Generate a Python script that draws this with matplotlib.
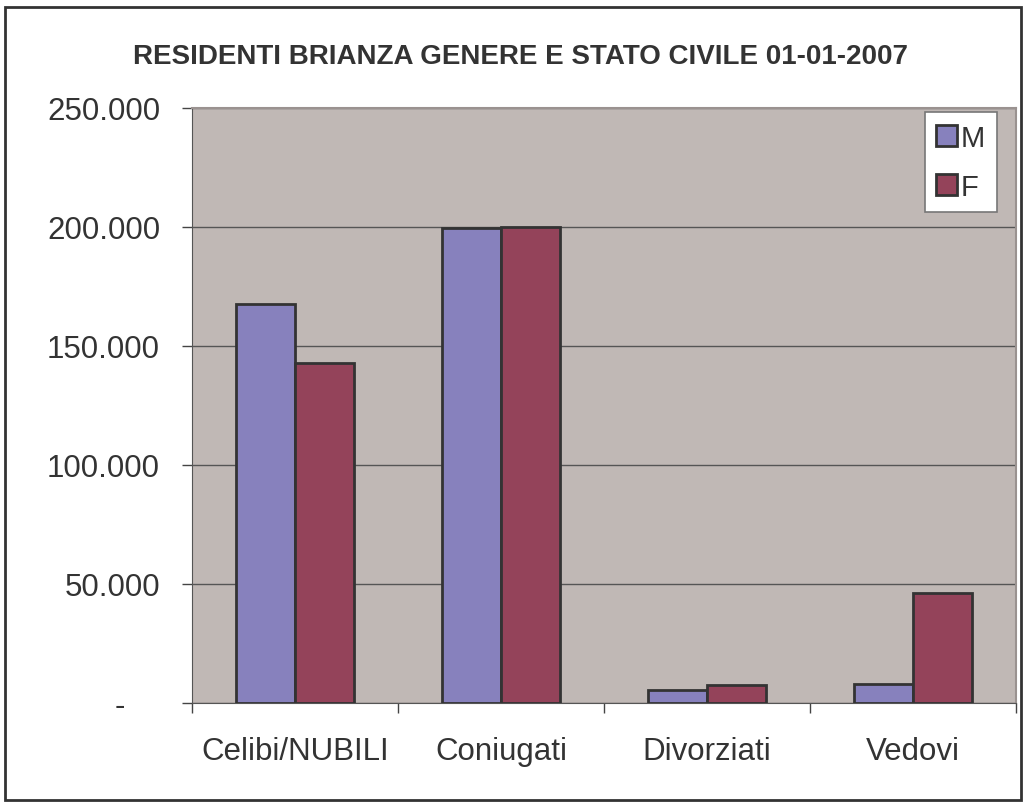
import matplotlib
matplotlib.use("Agg")
import matplotlib.pyplot as plt
from matplotlib.patches import Rectangle
from matplotlib.ticker import FuncFormatter, FixedLocator
import numpy as np

plt.rcParams.update({
    "font.family": ["Liberation Sans", "DejaVu Sans"],
    "font.size": 22.5,
})

# data
categories = ["Celibi/NUBILI", "Coniugati", "Divorziati", "Vedovi"]
maschi = [167500, 199500, 5300, 8000]
femmine = [143000, 199800, 7400, 46300]
series_names = ["M", "F"]

COL_M = "#8781BD"
COL_F = "#94435A"
BG = "#C0B8B5"
EDGE = "#333333"

fig = plt.figure(figsize=(10.26, 8.03), dpi=100)
ax = fig.add_axes([0.1871, 0.1233, 0.8031, 0.741])
ax.set_facecolor(BG)

x = np.arange(len(categories))
w = 0.286
ax.bar(x - w / 2, maschi, w, color=COL_M, edgecolor=EDGE, linewidth=2,
       label=series_names[0], zorder=3)
ax.bar(x + w / 2, femmine, w, color=COL_F, edgecolor=EDGE, linewidth=2,
       label=series_names[1], zorder=3)

ax.set_xlim(-0.5, len(categories) - 0.5)
ax.set_ylim(0, 250000)
ax.set_yticks(np.arange(0, 250001, 50000))
# accounting style: zero shown as a dash, thousands with a dot
ax.yaxis.set_major_formatter(
    FuncFormatter(lambda v, p: "-    " if v == 0 else f"{int(v):,}".replace(",", ".")))
ax.grid(axis="y", color="#555555", linewidth=1.0, zorder=1)

# ticks at category boundaries, labels at centres
ax.xaxis.set_major_locator(FixedLocator(np.arange(-0.5, len(categories), 1.0)))
ax.xaxis.set_major_formatter(FuncFormatter(lambda v, p: ""))
ax.xaxis.set_minor_locator(FixedLocator(x))
ax.set_xticklabels(categories, minor=True)
ax.tick_params(axis="x", which="major", direction="out", length=7, width=1,
               color="#444444")
ax.tick_params(axis="x", which="minor", length=0, pad=24, labelsize=22.5,
               labelcolor="#333333")
ax.tick_params(axis="y", direction="out", length=7, width=1, pad=16,
               color="#444444", labelsize=22.5, labelcolor="#333333")

ax.spines["top"].set_visible(False)
ax.spines["left"].set_color("#555555")
ax.spines["bottom"].set_color("#555555")
ax.spines["right"].set_color("#9a9290")
ax.spines["right"].set_linewidth(1.5)
ax.plot([0, 1], [1, 1], transform=ax.transAxes, color="#9a9290", lw=1.5,
        clip_on=False, zorder=4)

leg = ax.legend(loc="upper right", bbox_to_anchor=(0.977, 0.993), frameon=True,
                fancybox=False, fontsize=21, handlelength=0.7, handleheight=0.7,
                handletextpad=0.15, borderpad=0.4, labelspacing=0.72,
                borderaxespad=0.0)
leg.get_frame().set_edgecolor("#777777")
leg.get_frame().set_linewidth(1.2)
leg.get_frame().set_alpha(1)
for t in leg.get_texts():
    t.set_color("#333333")

fig.text(0.507, 0.929, "RESIDENTI BRIANZA GENERE E STATO CIVILE 01-01-2007",
         ha="center", va="center", fontsize=20, fontweight="bold",
         color="#333333")

fig.patches.append(Rectangle((0.005, 0.003), 0.99, 0.987, transform=fig.transFigure,
                             fill=False, edgecolor="#333333", linewidth=2))

fig.savefig("out.png", dpi=100)
